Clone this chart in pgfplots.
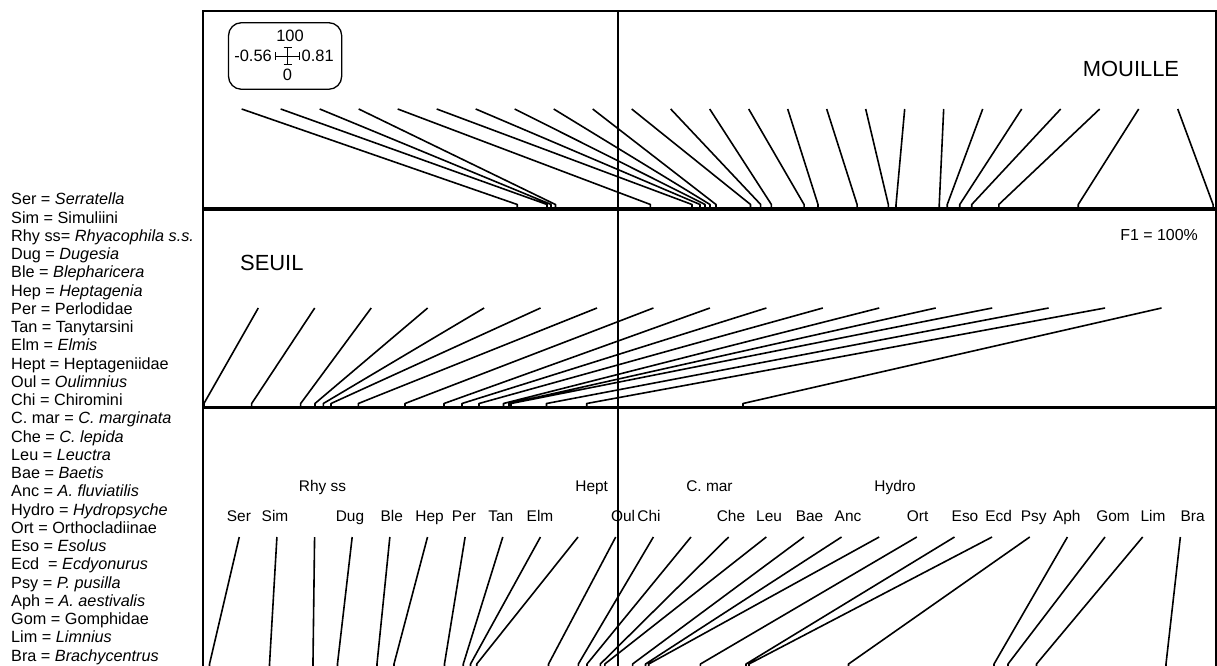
\documentclass[border=0pt]{standalone}
\usepackage{pgfplots}
\pgfplotsset{compat=1.18}
\usepackage{fontspec}
\setmainfont{Liberation Sans}
\tikzset{seg/.style={black, line width=1.6bp, line join=round}}
\begin{document}
\begin{tikzpicture}
\useasboundingbox (0bp,0bp) rectangle (1217bp,666bp);
\begin{axis}[
  at={(202.7bp,655bp)}, anchor=north west,
  scale only axis, width=1013bp, height=659bp,
  xmin=-0.5612, xmax=0.8077, ymin=11, ymax=670, y dir=reverse,
  axis line style={line width=2.2bp},
  ticks=none,
  unbounded coords=jump,
]
% MOUILLE panel: evenly spaced label position -> F1 score
\addplot[seg, mark=none] coordinates {
(-0.5085,109) (-0.1361,204.5) (-0.1361,208) (nan,nan)
(-0.4558,109) (-0.0959,204.5) (-0.0959,208) (nan,nan)
(-0.4031,109) (-0.0905,204.5) (-0.0905,208) (nan,nan)
(-0.3504,109) (-0.0845,204.5) (-0.0845,208) (nan,nan)
(-0.2977,109) (0.0438,204.5) (0.0438,208) (nan,nan)
(-0.2450,109) (0.1000,204.5) (0.1000,208) (nan,nan)
(-0.1923,109) (0.1108,204.5) (0.1108,208) (nan,nan)
(-0.1396,109) (0.1176,204.5) (0.1176,208) (nan,nan)
(-0.0869,109) (0.1243,204.5) (0.1243,208) (nan,nan)
(-0.0342,109) (0.1324,204.5) (0.1324,208) (nan,nan)
(0.0185,109) (0.1791,204.5) (0.1791,208) (nan,nan)
(0.0712,109) (0.1928,204.5) (0.1928,208) (nan,nan)
(0.1239,109) (0.2073,204.5) (0.2073,208) (nan,nan)
(0.1766,109) (0.2514,204.5) (0.2514,208) (nan,nan)
(0.2293,109) (0.2703,204.5) (0.2703,208) (nan,nan)
(0.2820,109) (0.3231,204.5) (0.3231,208) (nan,nan)
(0.3347,109) (0.3653,204.5) (0.3653,208) (nan,nan)
(0.3874,109) (0.3757,204.5) (0.3757,208) (nan,nan)
(0.4401,109) (0.4341,204.5) (0.4341,208) (nan,nan)
(0.4928,109) (0.4449,204.5) (0.4449,208) (nan,nan)
(0.5455,109) (0.4618,204.5) (0.4618,208) (nan,nan)
(0.5982,109) (0.4780,204.5) (0.4780,208) (nan,nan)
(0.6509,109) (0.5146,204.5) (0.5146,208) (nan,nan)
(0.7036,109) (0.6219,204.5) (0.6219,208) (nan,nan)
(0.7564,109) (0.8041,204.5) (0.8041,208)
};
% SEUIL panel
\addplot[seg, mark=none] coordinates {
(-0.4861,308) (-0.5595,403.5) (-0.5595,407) (nan,nan)
(-0.4098,308) (-0.4950,403.5) (-0.4950,407) (nan,nan)
(-0.3335,308) (-0.4288,403.5) (-0.4288,407) (nan,nan)
(-0.2572,308) (-0.4095,403.5) (-0.4095,407) (nan,nan)
(-0.1809,308) (-0.3982,403.5) (-0.3982,407) (nan,nan)
(-0.1047,308) (-0.3878,403.5) (-0.3878,407) (nan,nan)
(-0.0284,308) (-0.3509,403.5) (-0.3509,407) (nan,nan)
(0.0479,308) (-0.2878,403.5) (-0.2878,407) (nan,nan)
(0.1242,308) (-0.2351,403.5) (-0.2351,407) (nan,nan)
(0.2005,308) (-0.2108,403.5) (-0.2108,407) (nan,nan)
(0.2768,308) (-0.1878,403.5) (-0.1878,407) (nan,nan)
(0.3530,308) (-0.1547,403.5) (-0.1547,407) (nan,nan)
(0.4293,308) (-0.1473,403.5) (-0.1473,407) (nan,nan)
(0.5056,308) (-0.1446,403.5) (-0.1446,407) (nan,nan)
(0.5819,308) (-0.0966,403.5) (-0.0966,407) (nan,nan)
(0.6582,308) (-0.0423,403.5) (-0.0423,407) (nan,nan)
(0.7345,308) (0.1689,403.5) (0.1689,407)
};
% taxa panel
\addplot[seg, mark=none] coordinates {
(-0.5118,537) (-0.5520,664) (-0.5520,672) (nan,nan)
(-0.4609,537) (-0.4709,664) (-0.4709,672) (nan,nan)
(-0.4100,537) (-0.4122,664) (-0.4122,672) (nan,nan)
(-0.3592,537) (-0.3791,664) (-0.3791,672) (nan,nan)
(-0.3083,537) (-0.3257,664) (-0.3257,672) (nan,nan)
(-0.2574,537) (-0.3027,664) (-0.3027,672) (nan,nan)
(-0.2066,537) (-0.2345,664) (-0.2345,672) (nan,nan)
(-0.1557,537) (-0.2091,664) (-0.2091,672) (nan,nan)
(-0.1048,537) (-0.1993,664) (-0.1993,672) (nan,nan)
(-0.0540,537) (-0.1909,664) (-0.1909,672) (nan,nan)
(-0.0031,537) (-0.0939,664) (-0.0939,672) (nan,nan)
(0.0478,537) (-0.0536,664) (-0.0536,672) (nan,nan)
(0.0986,537) (-0.0419,664) (-0.0419,672) (nan,nan)
(0.1495,537) (-0.0239,664) (-0.0239,672) (nan,nan)
(0.2004,537) (-0.0178,664) (-0.0178,672) (nan,nan)
(0.2512,537) (0.0197,664) (0.0197,672) (nan,nan)
(0.3021,537) (0.0372,664) (0.0372,672) (nan,nan)
(0.3529,537) (0.0415,664) (0.0415,672) (nan,nan)
(0.4038,537) (0.1114,664) (0.1114,672) (nan,nan)
(0.4547,537) (0.1730,664) (0.1730,672) (nan,nan)
(0.5055,537) (0.1770,664) (0.1770,672) (nan,nan)
(0.5564,537) (0.3115,664) (0.3115,672) (nan,nan)
(0.6073,537) (0.5081,664) (0.5081,672) (nan,nan)
(0.6581,537) (0.5270,664) (0.5270,672) (nan,nan)
(0.7090,537) (0.5655,664) (0.5655,672) (nan,nan)
(0.7599,537) (0.7405,664) (0.7405,672)
};
\draw[line width=1.6bp] (axis cs:0,11) -- (axis cs:0,670);
\draw[line width=3.8bp] (axis cs:-0.5612,209.2) -- (axis cs:0.8077,209.2);
\draw[line width=2.8bp] (axis cs:-0.5612,407.3) -- (axis cs:0.8077,407.3);
\node[font=\fontsize{22}{26}\selectfont, inner sep=0] at (axis cs:0.6932,68.8) {MOUILLE};
\node[font=\fontsize{22}{26}\selectfont, inner sep=0] at (axis cs:-0.4678,263.3) {SEUIL};
\node[font=\fontsize{16}{19}\selectfont, inner sep=0] at (axis cs:0.7311,234.6) {F1 = 100\%};
% taxa labels
\begin{scope}[every node/.style={font=\fontsize{15.5}{18}\selectfont, inner sep=0, anchor=base}]
\node at (axis cs:-0.5122,521.5) {Ser};
\node at (axis cs:-0.4635,521.5) {Sim};
\node at (axis cs:-0.3993,491) {Rhy ss};
\node at (axis cs:-0.3622,521.5) {Dug};
\node at (axis cs:-0.3058,521.5) {Ble};
\node at (axis cs:-0.2547,521.5) {Hep};
\node at (axis cs:-0.2081,521.5) {Per};
\node at (axis cs:-0.1584,521.5) {Tan};
\node at (axis cs:-0.1054,521.5) {Elm};
\node at (axis cs:-0.0355,491) {Hept};
\node at (axis cs:0.0068,521.5) {Oul};
\node at (axis cs:0.0419,521.5) {Chi};
\node at (axis cs:0.1236,491) {C. mar};
\node at (axis cs:0.1527,521.5) {Che};
\node at (axis cs:0.2041,521.5) {Leu};
\node at (axis cs:0.2588,521.5) {Bae};
\node at (axis cs:0.3108,521.5) {Anc};
\node at (axis cs:0.3743,491) {Hydro};
\node at (axis cs:0.4049,521.5) {Ort};
\node at (axis cs:0.4689,521.5) {Eso};
\node at (axis cs:0.5143,521.5) {Ecd};
\node at (axis cs:0.5618,521.5) {Psy};
\node at (axis cs:0.6065,521.5) {Aph};
\node at (axis cs:0.6689,521.5) {Gom};
\node at (axis cs:0.7230,521.5) {Lim};
\node at (axis cs:0.7765,521.5) {Bra};
\end{scope}
\end{axis}
% scale box
\draw[line width=1.3bp, rounded corners=13bp] (228.5bp,643.3bp) rectangle (341.7bp,576.7bp);
\begin{scope}[every node/.style={font=\fontsize{16.5}{19}\selectfont, inner sep=0}]
\node[anchor=base] at (290bp,624bp) {100};
\node[anchor=base east] at (272bp,604bp) {-0.56};
\node[anchor=base west] at (301.5bp,604bp) {0.81};
\node[anchor=base] at (287.5bp,585.5bp) {0};
\end{scope}
\draw[line width=1bp] (275.5bp,609.5bp) -- (299.5bp,609.5bp);
\draw[line width=1bp] (275.5bp,613.5bp) -- (275.5bp,605.5bp);
\draw[line width=1bp] (299.5bp,613.5bp) -- (299.5bp,605.5bp);
\draw[line width=1bp] (287.5bp,618bp) -- (287.5bp,601bp);
\draw[line width=1bp] (283.5bp,618bp) -- (291.5bp,618bp);
\draw[line width=1bp] (283.5bp,601bp) -- (291.5bp,601bp);
% legend of abbreviations
\foreach \t [count=\i from 0] in {
{Ser = \textit{Serratella}},
{Sim = Simuliini},
{Rhy ss= \textit{Rhyacophila s.s.}},
{Dug = \textit{Dugesia}},
{Ble = \textit{Blepharicera}},
{Hep = \textit{Heptagenia}},
{Per = Perlodidae},
{Tan = Tanytarsini},
{Elm = \textit{Elmis}},
{Hept = Heptageniidae},
{Oul = \textit{Oulimnius}},
{Chi = Chiromini},
{C. mar = \textit{C. marginata}},
{Che = \textit{C. lepida}},
{Leu = \textit{Leuctra}},
{Bae = \textit{Baetis}},
{Anc = \textit{A. fluviatilis}},
{Hydro = \textit{Hydropsyche}},
{Ort = Orthocladiinae},
{Eso = \textit{Esolus}},
{Ecd\ \ = \textit{Ecdyonurus}},
{Psy = \textit{P. pusilla}},
{Aph = \textit{A. aestivalis}},
{Gom = Gomphidae},
{Lim = \textit{Limnius}},
{Bra = \textit{Brachycentrus}}}
{\node[anchor=base west, inner sep=0, font=\fontsize{16.3}{19}\selectfont] at (11bp,{(461-18.24*\i)*1bp}) {\t};}
\end{tikzpicture}
\end{document}
